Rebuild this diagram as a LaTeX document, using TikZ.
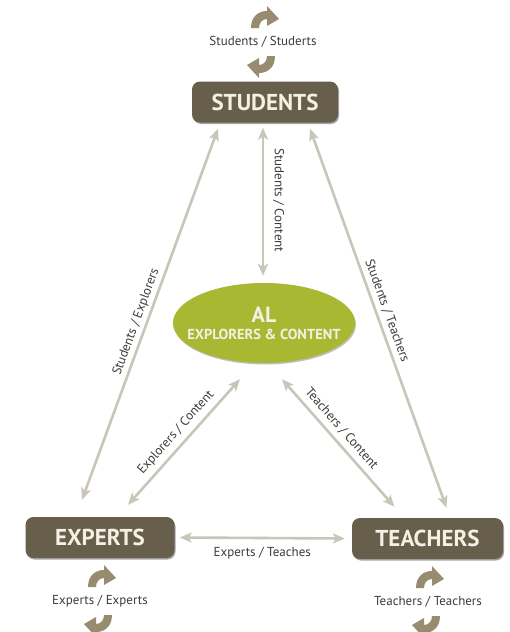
\documentclass[tikz,border=0pt]{standalone}
\usepackage{fontspec}
\setmainfont{PT Sans}
\usetikzlibrary{arrows.meta,shapes.geometric,shadows}

\definecolor{boxc}{HTML}{675F4B}
\definecolor{boxt}{HTML}{F4F0E4}
\definecolor{alc}{HTML}{A9B832}
\definecolor{arrc}{HTML}{C9C5B9}
\definecolor{lblc}{HTML}{3C3C3A}
\definecolor{cycc}{HTML}{988C70}

\begin{document}
\begin{tikzpicture}[x=1pt,y=-1pt,
  role/.style={draw=none, fill=boxc, rounded corners=8pt, minimum width=149pt, minimum height=41pt,
    text=boxt, font=\fontsize{23}{25}\selectfont\bfseries,
    drop shadow={opacity=0.35, shadow xshift=1pt, shadow yshift=-1.5pt, fill=black}},
  alnode/.style={ellipse, draw=none, fill=alc, minimum width=182pt, minimum height=80pt,
    text=boxt, align=center, inner xsep=-22pt, inner ysep=0pt, font=\fontsize{22}{24}\selectfont\bfseries,
    drop shadow={opacity=0.25, shadow xshift=1pt, shadow yshift=-1.5pt, fill=black}},
  lbl/.style={text=lblc, font=\fontsize{13}{15}\selectfont, inner sep=2pt},
  conn/.style={draw=arrc, line width=2.6pt,
    {Stealth[length=12pt,width=10pt,inset=3pt]}-{Stealth[length=12pt,width=10pt,inset=3pt]}},
  cycfill/.style={fill=cycc},
  cyc/.pic={
    \fill[cycfill] (-12,-14) .. controls (-12,-26) and (-4,-31) .. (4,-31) -- (4,-36) -- (16,-23)
      -- (4,-16) -- (4,-23) .. controls (-1,-23) and (-4,-19) .. (-4,-14) -- cycle;
    \fill[cycfill] (12,14) .. controls (12,26) and (4,31) .. (-4,31) -- (-4,36) -- (-16,23)
      -- (-4,16) -- (-4,23) .. controls (1,23) and (4,19) .. (4,14) -- cycle;
  }
]
\fill[white] (0,0) rectangle (510,632);
\useasboundingbox (0,0) rectangle (510,632);

% main nodes
\node[role, minimum width=146pt] (stu) at (265,102) {STUDENTS};
\node[role] (exp) at (100,537.5) {EXPERTS};
\node[role, minimum width=151pt] (tea) at (427.5,538.5) {TEACHERS};
\node[alnode] (al) at (264,323)
  {AL\\[-7pt]{\fontsize{14.5}{16}\selectfont EXPLORERS \& CONTENT}};

% self-loop labels and cycle icons
\node[lbl] (lss) at (263,42) {Students / Studerts};
\node[lbl] (lee) at (100,601) {Experts / Experts};
\node[lbl] (ltt) at (428,602) {Teachers / Teachers};
\pic at (lss.center) {cyc};
\pic at (lee.center) {cyc};
\pic at (ltt.center) {cyc};

% connectors
\draw[conn] ([xshift=-2pt,yshift=-5pt]stu.south) --
  node[lbl, pos=0.49, rotate=-90, anchor=south, outer sep=8pt] {Students / Content}
  ([xshift=-1pt,yshift=7pt]al.north);
\draw[conn] ([xshift=-47pt,yshift=-6pt]stu.south) --
  node[lbl, sloped, above=1pt, pos=0.53] {Students / Explorers}
  ([xshift=-18pt,yshift=17pt]exp.north);
\draw[conn] ([xshift=28pt,yshift=12pt]exp.north) --
  node[lbl, sloped, above=3pt, pos=0.51] {Explorers / Content}
  ([xshift=-24pt,yshift=-16pt]al.south);
\draw[conn] ([xshift=18pt,yshift=-16pt]al.south) --
  node[lbl, sloped, above=3pt, pos=0.45] {Teachers / Content}
  ([xshift=-33pt,yshift=11pt]tea.north);
\draw[conn] ([xshift=45pt,yshift=-6pt]stu.south) --
  node[lbl, sloped, above=2pt, pos=0.49] {Students / Teachers}
  ([xshift=19pt,yshift=10pt]tea.north);
\draw[conn] ([xshift=5pt]exp.east) --
  node[lbl, below=6pt] {Experts / Teaches}
  ([xshift=-7pt]tea.west);
\end{tikzpicture}
\end{document}
